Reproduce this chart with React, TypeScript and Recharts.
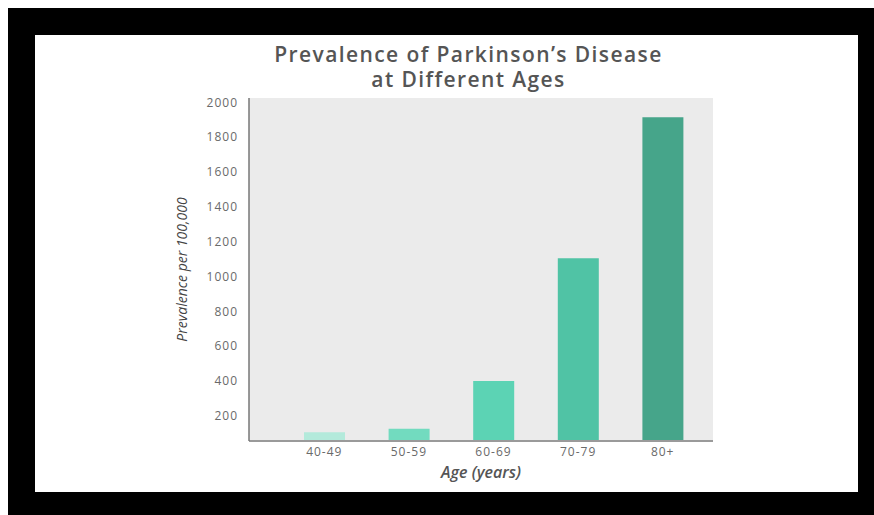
import { BarChart, Bar, XAxis, YAxis, CartesianGrid, Cell } from 'recharts';

const ageGroups = ['40-49', '50-59', '60-69', '70-79', '80+'];
const prevalence = [105, 125, 400, 1105, 1915];
const barColors = ['#b3eadb', '#72dbbf', '#5cd3b4', '#50c3a5', '#46a58a'];
const yTicks = [200, 400, 600, 800, 1000, 1200, 1400, 1600, 1800, 2000];
const titleLines = ['Prevalence of Parkinson’s Disease', 'at Different Ages'];

const data = ageGroups.map((age, i) => ({ age, value: prevalence[i] }));

const tickStyle = { fill: '#6a6a6a', fontSize: 12, fontFamily: '"Open Sans", sans-serif', letterSpacing: 1 };

export default function App() {
  return (
    <div style={{ position: 'absolute', left: 8, top: 8, width: 866, height: 507, background: '#000' }}>
      <div style={{ position: 'absolute', left: 27, top: 27, width: 823, height: 457, background: '#fff' }}>
        <BarChart
          width={823}
          height={457}
          data={data}
          margin={{ top: 63, right: 145, left: 80, bottom: 6 }}
          barSize={41}
        >
          <CartesianGrid horizontal={false} vertical={false} fill="#ebebeb" />
          <XAxis
            dataKey="age"
            height={45}
            padding={{ left: 33, right: 8 }}
            tickLine={false}
            tickMargin={0}
            tick={tickStyle}
            axisLine={{ stroke: '#9a9a9a', strokeWidth: 2 }}
            label={{
              value: 'Age (years)', position: 'insideBottom', offset: 8,
              fill: '#555', fontSize: 16, fontStyle: 'italic', fontWeight: 600,
              fontFamily: '"Open Sans", sans-serif',
            }}
          />
          <YAxis
            type="number"
            width={134}
            domain={[55, 2025]}
            allowDataOverflow
            ticks={yTicks}
            interval={0}
            tickLine={false}
            tickMargin={5}
            tick={tickStyle}
            axisLine={{ stroke: '#777', strokeWidth: 1.5 }}
            label={{
              value: 'Prevalence per 100,000', angle: -90, position: 'center',
              fill: '#444', fontSize: 14, fontStyle: 'italic',
              fontFamily: '"Open Sans", sans-serif',
            }}
          />
          <Bar dataKey="value" isAnimationActive={false}>
            {data.map((d, i) => (
              <Cell key={d.age} fill={barColors[i]} />
            ))}
          </Bar>
        </BarChart>
        {titleLines.map((line, i) => (
          <div
            key={line}
            style={{
              position: 'absolute', left: 22, top: 8 + i * 25, width: 823,
              textAlign: 'center', fontFamily: '"Open Sans", sans-serif',
              fontWeight: 600, fontSize: 21, lineHeight: '22px', letterSpacing: 1.4,
              color: '#555',
            }}
          >
            {line}
          </div>
        ))}
      </div>
    </div>
  );
}
